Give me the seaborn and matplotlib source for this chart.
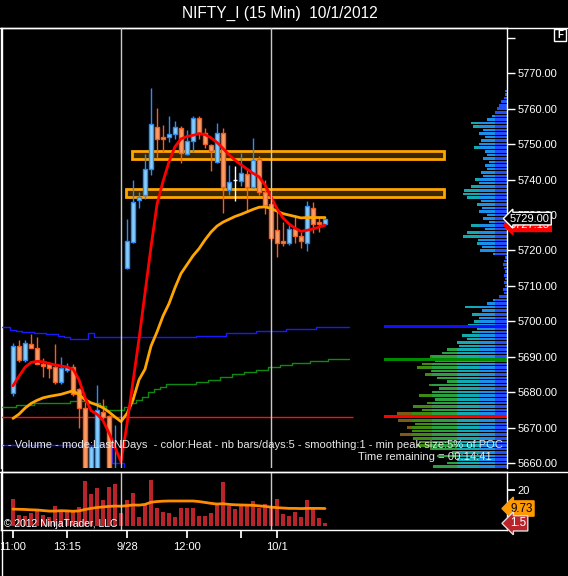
import numpy as np
import pandas as pd
import matplotlib
matplotlib.use('Agg')
import matplotlib.pyplot as plt
import matplotlib.transforms as mtransforms
from matplotlib.patches import Rectangle
from matplotlib.lines import Line2D
import seaborn as sns

sns.set_theme(style='dark', rc={'axes.facecolor': 'black', 'figure.facecolor': 'black',
                                'axes.edgecolor': 'white', 'text.color': 'white',
                                'xtick.color': 'white', 'ytick.color': 'white',
                                'axes.grid': False})
plt.rcParams['font.family'] = ['Liberation Sans', 'DejaVu Sans']

W, H = 568, 576

# 15 min bars, 9/27 11:00 -> 10/1
opens = [5679.7, 5693.0, 5689.0, 5693.5, 5692.4, 5687.9, 5687.9, 5687.1, 5683.0, 5686.2,
         5687.1, 5680.9, 5675.4, 5656.5, 5656.5, 5674.5, 5673.4, 5656.5, 5656.0,
         5715.0, 5722.5, 5734.2, 5735.8, 5742.9, 5754.9, 5751.9, 5751.9, 5752.8, 5754.6,
         5747.2, 5751.0, 5757.3, 5753.1, 5749.7, 5745.0, 5753.1, 5737.1, 5739.9, 5739.7,
         5741.6, 5738.0, 5745.8, 5736.4,
         5733.1, 5725.8, 5722.7, 5722.0, 5726.0, 5724.1, 5722.2, 5731.9, 5728.1, 5727.4]
highs = [5693.9, 5694.7, 5694.7, 5696.4, 5695.7, 5689.6, 5688.4, 5693.5, 5689.8, 5688.1,
         5688.0, 5681.3, 5677.1, 5664.8, 5682.0, 5678.0, 5673.6, 5670.7, 5657.0,
         5728.9, 5739.9, 5736.6, 5747.2, 5766.0, 5760.1, 5755.4, 5757.9, 5756.5, 5755.0,
         5754.0, 5757.9, 5758.0, 5754.5, 5750.0, 5756.1, 5754.5, 5744.1, 5743.8, 5747.6,
         5742.9, 5751.7, 5746.7, 5739.9,
         5734.5, 5731.0, 5728.1, 5727.2, 5730.0, 5725.3, 5734.0, 5733.8, 5729.5, 5729.1]
lows = [5679.0, 5688.6, 5688.5, 5692.6, 5688.0, 5684.2, 5683.9, 5682.4, 5682.2, 5685.8,
        5679.0, 5670.0, 5656.0, 5656.0, 5656.0, 5672.5, 5656.0, 5656.0, 5655.0,
        5714.8, 5722.0, 5731.9, 5734.4, 5741.3, 5746.0, 5747.9, 5750.7, 5751.4, 5744.8,
        5747.0, 5747.9, 5751.5, 5748.8, 5742.5, 5744.6, 5730.7, 5735.6, 5733.9, 5738.2,
        5730.9, 5737.5, 5735.6, 5730.2,
        5722.8, 5718.1, 5721.2, 5721.5, 5722.2, 5720.6, 5719.9, 5724.8, 5725.3, 5727.2]
closes = [5693.0, 5689.0, 5693.8, 5692.6, 5688.0, 5687.5, 5686.9, 5683.0, 5686.9, 5687.2,
          5679.4, 5675.4, 5656.5, 5664.6, 5675.0, 5673.1, 5656.5, 5657.5, 5656.0,
          5722.7, 5733.8, 5735.0, 5742.9, 5755.6, 5751.4, 5751.4, 5752.8, 5754.9, 5747.6,
          5751.0, 5757.3, 5753.1, 5750.0, 5748.1, 5753.1, 5738.0, 5739.2, 5739.9, 5741.8,
          5738.0, 5745.5, 5736.4, 5732.8,
          5723.4, 5722.0, 5722.0, 5726.0, 5724.1, 5722.8, 5732.5, 5727.4, 5727.4, 5729.0]

ma_fast = [5681.8, 5684.5, 5687.0, 5688.4, 5688.7, 5688.6, 5688.1, 5687.7, 5687.4, 5687.1,
           5686.5, 5683.5, 5678.5, 5674.8, 5673.8, 5672.0, 5668.5, 5664.5, 5660.3,
           5671.0, 5683.0, 5695.0, 5708.0, 5721.0, 5733.0, 5739.5, 5745.0, 5749.3, 5751.5,
           5752.2, 5752.5, 5753.0, 5752.7, 5751.8, 5750.5, 5748.8, 5747.0, 5745.5, 5744.2,
           5743.0, 5741.8, 5740.8, 5738.5,
           5735.2, 5731.8, 5729.2, 5727.5, 5726.3, 5725.4, 5725.7, 5726.1, 5726.6, 5727.15]
ma_slow = [5672.6, 5673.8, 5675.5, 5676.8, 5677.7, 5678.4, 5678.8, 5679.1, 5679.4, 5679.9,
           5680.4, 5679.3, 5677.9, 5677.0, 5676.4, 5675.6, 5674.4, 5673.0, 5671.7,
           5674.0, 5677.8, 5683.5, 5686.5, 5693.0, 5697.0, 5701.5, 5705.0, 5709.5, 5713.5,
           5716.0, 5718.5, 5720.5, 5723.0, 5725.2, 5726.9, 5728.0, 5728.8, 5729.6, 5730.2,
           5730.9, 5731.6, 5732.2, 5732.3,
           5731.9, 5731.1, 5730.4, 5730.0, 5729.6, 5729.2, 5729.3, 5729.3, 5729.3, 5729.3]

volume = [15.0, 6.1, 5.5, 7.0, 9.3, 6.0, 5.2, 11.1, 8.0, 8.5,
          8.9, 10.5, 25.0, 17.8, 20.9, 14.4, 21.9, 23.3, 7.0,
          14.4, 18.1, 5.2, 11.7, 25.6, 10.0, 8.0, 7.4, 5.2, 9.8,
          9.8, 9.8, 5.7, 5.7, 7.4, 11.7, 24.3, 11.1, 9.4, 11.1,
          11.7, 13.9, 10.2, 12.2,
          9.8, 15.0, 6.5, 5.6, 8.0, 4.8, 14.4, 9.4, 4.6, 1.5]
volume_ma = [9.4, 9.3, 9.2, 9.0, 8.9, 8.6, 8.3, 8.3, 8.5, 8.4,
             8.2, 8.4, 9.2, 9.8, 10.3, 10.6, 10.9, 11.1, 11.0,
             11.3, 11.7, 11.6, 12.0, 13.2, 13.6, 13.8, 13.9, 13.9, 13.9,
             13.9, 13.9, 13.6, 13.1, 12.6, 12.2, 12.4, 12.0, 11.8, 11.7,
             11.6, 11.5, 11.2, 10.9,
             10.5, 10.2, 10.0, 9.8, 9.8, 9.7, 9.8, 9.8, 9.8, 9.73]

# developing profile levels, one value per bar slot from -2 to 56
dev_slots = list(range(-2, 57))
dev_high = [5698.3, 5698.3, 5697.6, 5697.3, 5697.0, 5696.9, 5696.7, 5696.6, 5696.4, 5696.4,
            5695.9, 5695.7, 5695.1, 5695.1, 5695.1, 5696.7] + [5695.5] * 17 \
           + [5696.0] * 5 + [5696.6] * 5 + [5697.2] * 5 + [5697.8] * 5 + [5698.5] * 6
dev_low = [5665.2] * 19 + [5660.1] * 2 + [5650.0] * 38
dev_mid = [5675.8] * 3 + [5676.3] * 3 + [5676.9] * 6 + [5677.4] * 3 + [5676.9] * 2 \
          + [5676.2] + [5675.0] * 3 + [5675.8, 5676.9, 5677.8, 5678.7, 5680.0, 5680.8, 5681.5] \
          + [5682.2] * 5 + [5682.9] * 2 + [5683.5] * 2 + [5684.2] * 2 + [5685.0] * 2 \
          + [5685.7] * 2 + [5686.3] * 2 + [5687.0] * 2 + [5687.6] * 2 + [5688.2] * 3 \
          + [5688.8] * 3 + [5689.3] * 4
dev_poc = 5672.9

# volume profile, one row per point from 5659 up
vp_price = list(range(5659, 5766))
vp_len = [74, 60, 50, 70, 55, 77, 90, 88, 94, 107,
          95, 100, 92, 109, 105, 110, 85, 94, 80, 72,
          88, 75, 68, 78, 60, 70, 82, 76, 90, 85,
          72, 77, 65, 60, 48, 50, 40, 45, 35, 30,
          39, 33, 28, 35, 25, 42, 20, 14, 8, 3,
          4, 2, 3, 2, 3, 2, 3, 4, 3, 2,
          14, 27, 25, 30, 29, 44, 40, 22, 36, 18,
          24, 20, 28, 25, 30, 26, 40, 44, 43, 36,
          28, 32, 24, 26, 20, 22, 18, 24, 20, 22,
          33, 28, 26, 22, 28, 24, 34, 36, 20, 15,
          12, 10, 8, 6, 3, 2, 2]
vp_peaks = [5698.6, 5689.3, 5673.2]
vp_peak_colors = ['#1010ff', '#008a00', '#ff0000']

zones = [(19.9, 5745.7, 5748.0), (18.9, 5735.0, 5737.3)]
zone_end = 71.9

tick_pos = [0, 9, 19, 29, 38, 44]
tick_lab = ['11:00', '13:15', '9/28', '12:00', '', '10/1']
session_starts = [18, 43]

bars = pd.DataFrame({'o': opens, 'h': highs, 'l': lows, 'c': closes})
bars['i'] = np.arange(len(bars))


def box(x0, y0, x1, y1):
    return [x0 / W, 1 - y1 / H, (x1 - x0) / W, (y1 - y0) / H]


fig = plt.figure(figsize=(W / 100, H / 100), dpi=100, facecolor='black')
axp = fig.add_axes(box(1, 28, 507, 468))
ax = fig.add_axes(box(1, 28, 507, 468), sharey=axp)
axv = fig.add_axes(box(1, 472, 507, 530), sharex=ax)
ax.set_zorder(2)
ax.patch.set_alpha(0)

ylo, yhi = 5658.6, 5782.8
ax.set_ylim(ylo, yhi)
ax.set_xlim(-2, 82.33)
axv.set_ylim(-2.2, 30)

# ---- volume profile
axp.set_xlim(506, 0)
axp.set_xticks([])
axp.tick_params(left=False, right=False, labelleft=False, labelright=False)
for s in axp.spines.values():
    s.set_visible(False)
lens = np.array(vp_len, dtype=float)
bands = [(0, 12, '#2050ff'), (12, 28, '#1c90e8'), (28, 50, '#14a8b0'),
         (50, 75, '#2ca040'), (75, 95, '#3f8a12'), (95, 300, '#7d5a16')]
for b0, b1, col in bands:
    w = np.clip(lens, b0, b1) - b0
    axp.barh(vp_price, w, left=b0, height=0.72, color=col, linewidth=0)
axp.barh(vp_peaks, [123] * 3, left=0, height=0.8, color=vp_peak_colors, linewidth=0)

# ---- developing lines
sns.lineplot(x=dev_slots, y=dev_high, ax=ax, color='#1a1aff', lw=1, drawstyle='steps-mid')
sns.lineplot(x=dev_slots, y=dev_low, ax=ax, color='#1a1aff', lw=1, drawstyle='steps-mid')
sns.lineplot(x=dev_slots, y=dev_mid, ax=ax, color='#118811', lw=1, drawstyle='steps-mid')
ax.hlines(dev_poc, -2, 56.7, color='#ff1010', lw=1)

# ---- zones
for x0, p0, p1 in zones:
    ax.add_patch(Rectangle((x0, p0), zone_end - x0, p1 - p0, fc='#3a2800', ec='#ffa500',
                           lw=2, zorder=3))

# ---- candles
up = bars[bars.c > bars.o]
dn = bars[bars.c < bars.o]
dj = bars[bars.c == bars.o]
ax.vlines(up.i, up.l, up.h, color='#2a8cff', lw=1, zorder=4)
ax.vlines(dn.i, dn.l, dn.h, color='#ff5a1a', lw=1, zorder=4)
ax.vlines(dj.i, dj.l, dj.h, color='white', lw=1, zorder=4)
ax.bar(up.i, up.c - up.o, bottom=up.o, width=0.7, color='#8ccff5', edgecolor='#2a8cff',
       lw=1, zorder=5)
ax.bar(dn.i, dn.o - dn.c, bottom=dn.c, width=0.7, color='#f7a06a', edgecolor='#ff5a1a',
       lw=1, zorder=5)
ax.hlines(dj.c, dj.i - 0.35, dj.i + 0.35, color='white', lw=1, zorder=5)

sns.lineplot(x=bars.i, y=ma_slow, ax=ax, color='#ffa500', lw=2, zorder=6)
sns.lineplot(x=bars.i, y=ma_fast, ax=ax, color='#ff0000', lw=2, zorder=7)

for s in session_starts:
    ax.axvline(s, color='#c8c8c8', lw=1, zorder=8)
    axv.axvline(s, color='#c8c8c8', lw=1, zorder=8)

# ---- main axis styling
ax.yaxis.tick_right()
yt = list(range(5660, 5781, 10))
ax.set_yticks(yt)
ax.set_yticklabels([f'{v:.2f}' if v < 5780 else '' for v in yt])
ax.tick_params(axis='y', colors='white', length=6, width=1, pad=1.5, labelsize=8,
               right=True, left=False, labelleft=False, labelright=True)
ax.tick_params(axis='x', bottom=False, labelbottom=False)
ax.set_xlabel('')
ax.set_ylabel('')
for k in ['left', 'right', 'top']:
    ax.spines[k].set_color('white')
    ax.spines[k].set_linewidth(1)
ax.spines['bottom'].set_visible(False)

ax.text(502 / 506, 0.052, '- - Volume - mode:LastNDays  - color:Heat - nb bars/days:5 - '
        'smoothing:1 - min peak size:5% of POC', transform=ax.transAxes, ha='right',
        va='center', color='#e8e8e8', fontsize=8.0, zorder=9)
ax.text(491 / 506, 0.024, 'Time remaining = 00:14:41', transform=ax.transAxes, ha='right',
        va='center', color='#e8e8e8', fontsize=8.1, zorder=9)

# price markers
tr = mtransforms.blended_transform_factory(ax.transAxes, ax.transData)
ax.text(1.006, ma_fast[-1], f'{ma_fast[-1]:.2f}', transform=tr, ha='left', va='center',
        color='white', fontsize=8, zorder=10, clip_on=False,
        bbox=dict(boxstyle='larrow,pad=0.12', fc='#ff0000', ec='#ff0000', lw=1))
ax.text(1.006, closes[-1], f'{closes[-1]:.2f}', transform=tr, ha='left', va='center',
        color='white', fontsize=8, zorder=11, clip_on=False,
        bbox=dict(boxstyle='larrow,pad=0.12', fc='black', ec='white', lw=1))

# ---- volume panel
axv.bar(bars.i, volume, width=0.55, color='#b8242a', lw=0, zorder=3)
sns.lineplot(x=bars.i, y=volume_ma, ax=axv, color='#ff8c00', lw=2, zorder=4)
axv.yaxis.tick_right()
axv.set_yticks([20])
axv.set_yticklabels(['20'])
axv.tick_params(axis='y', colors='white', length=6, pad=1.5, labelsize=8,
                right=True, left=False, labelleft=False, labelright=True)
axv.set_xticks(tick_pos)
axv.set_xticklabels(tick_lab)
axv.tick_params(axis='x', colors='white', length=6, pad=3, labelsize=8, bottom=True)
axv.set_xlabel('')
axv.set_ylabel('')
for s in axv.spines.values():
    s.set_color('white')
    s.set_linewidth(1)
trv = mtransforms.blended_transform_factory(axv.transAxes, axv.transData)
axv.text(1.006, volume_ma[-1], f'{volume_ma[-1]:.2f}', transform=trv, ha='left',
         va='center', color='black', fontsize=8.4, zorder=10, clip_on=False,
         bbox=dict(boxstyle='larrow,pad=0.14', fc='#ff9900', ec='#ff9900', lw=1))
axv.text(1.006, volume[-1], f'{volume[-1]:.1f}', transform=trv, ha='left', va='center',
         color='white', fontsize=8.4, zorder=10, clip_on=False,
         bbox=dict(boxstyle='larrow,pad=0.14', fc='#b8242a', ec='#dddddd', lw=1))
axv.text(3 / 506, 0.1, '\u00a9 2012 NinjaTrader, LLC', transform=axv.transAxes, ha='left',
         va='center', color='white', fontsize=7.35, zorder=9)

# ---- frame & title
fig.add_artist(Line2D([0, 1], [1 - 27.5 / H] * 2, color='white', lw=1))
fig.add_artist(Line2D([0, 1], [1 - 472 / H] * 2, color='white', lw=1))
fig.add_artist(Line2D([1.5 / W] * 2, [0, 1 - 27.5 / H], color='white', lw=1))
fig.add_artist(Rectangle((554 / W, 1 - 41 / H), 12 / W, 12 / H, fc='black', ec='white',
                         lw=1, transform=fig.transFigure))
fig.text(560 / W, 1 - 35 / H, 'F', ha='center', va='center', color='white', fontsize=7,
         fontweight='bold')
fig.text(280 / W, 1 - 13 / H, 'NIFTY_I (15 Min)  10/1/2012', ha='center', va='center',
         color='white', fontsize=11.2)

fig.savefig('out.png', dpi=100, facecolor='black')
